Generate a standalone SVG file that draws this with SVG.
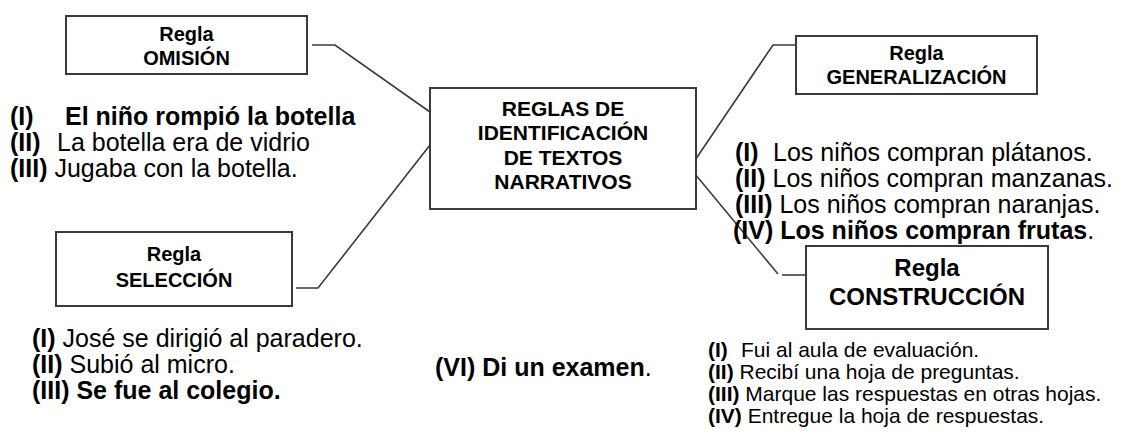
<svg xmlns="http://www.w3.org/2000/svg" width="1122" height="432" viewBox="0 0 1122 432">
<style>
text{font-family:"Liberation Sans",Arial,sans-serif;fill:#000}
.box{fill:#fff;stroke:#3a3a3a;stroke-width:2}
.lbl{font-size:20px;font-weight:bold;text-anchor:middle}
.big{font-size:24px;font-weight:bold;text-anchor:middle}
.ctr{font-size:21px;font-weight:bold;text-anchor:middle}
.t25{font-size:25px}
.t21{font-size:21px}
.b{font-weight:bold}
.con{fill:none;stroke:#3a3a3a;stroke-width:1.6}
</style>
<rect width="1122" height="432" fill="#fff"/>
<g id="connectors">
<polyline class="con" points="312,45 335,45 430,112"/>
<polyline class="con" points="296,288 318,288 430,145"/>
<polyline class="con" points="796,45 773,45 687,172"/>
<polyline class="con" points="690,168 778,274"/>
<line class="con" x1="782" y1="275" x2="805" y2="275"/>
</g>
<g id="central">
<rect class="box" x="430" y="88" width="266" height="121"/>
<text class="ctr" x="563" y="116">REGLAS DE</text>
<text class="ctr" x="563" y="140">IDENTIFICACIÓN</text>
<text class="ctr" x="563" y="165">DE TEXTOS</text>
<text class="ctr" x="563" y="189">NARRATIVOS</text>
</g>
<g id="omision">
<rect class="box" x="66" y="16" width="241" height="58"/>
<text class="lbl" x="186.5" y="41">Regla</text>
<text class="lbl" x="186.5" y="65">OMISIÓN</text>
</g>
<g id="omision-text" class="t25">
<text y="125"><tspan class="b" x="10">(I)</tspan><tspan class="b" x="65">El niño rompió la botella</tspan></text>
<text y="151"><tspan class="b" x="10">(II)</tspan><tspan x="57">La botella era de vidrio</tspan></text>
<text y="177"><tspan class="b" x="10">(III)</tspan> Jugaba con la botella.</text>
</g>
<g id="seleccion">
<rect class="box" x="56" y="232" width="236" height="74"/>
<text class="lbl" x="174" y="261">Regla</text>
<text class="lbl" x="174" y="287">SELECCIÓN</text>
</g>
<g id="seleccion-text" class="t25">
<text y="347"><tspan class="b" x="32">(I)</tspan> José se dirigió al paradero.</text>
<text y="373"><tspan class="b" x="32">(II)</tspan> Subió al micro.</text>
<text y="399" class="b" x="32">(III) Se fue al colegio.</text>
</g>
<g id="examen" class="t25">
<text y="376" x="435"><tspan class="b">(VI) Di un examen</tspan>.</text>
</g>
<g id="generalizacion">
<rect class="box" x="796" y="36" width="241" height="58"/>
<text class="lbl" x="916.5" y="60">Regla</text>
<text class="lbl" x="916.5" y="84">GENERALIZACIÓN</text>
</g>
<g id="generalizacion-text" class="t25">
<text y="161"><tspan class="b" x="735">(I)</tspan><tspan x="773">Los niños compran plátanos.</tspan></text>
<text y="187"><tspan class="b" x="735">(II)</tspan> Los niños compran manzanas.</text>
<text y="213"><tspan class="b" x="735">(III)</tspan> Los niños compran naranjas.</text>
<text y="239" x="733"><tspan class="b">(IV) Los niños compran frutas</tspan>.</text>
</g>
<g id="construccion">
<rect class="box" x="806" y="246" width="242" height="83"/>
<text class="big" x="927" y="276">Regla</text>
<text class="big" x="927" y="305">CONSTRUCCIÓN</text>
</g>
<g id="construccion-text" class="t21">
<text y="357"><tspan class="b" x="708">(I)</tspan><tspan x="741">Fui al aula de evaluación.</tspan></text>
<text y="379"><tspan class="b" x="708">(II)</tspan> Recibí una hoja de preguntas.</text>
<text y="401"><tspan class="b" x="708">(III)</tspan> Marque las respuestas en otras hojas.</text>
<text y="423"><tspan class="b" x="708">(IV)</tspan> Entregue la hoja de respuestas.</text>
</g>
</svg>
